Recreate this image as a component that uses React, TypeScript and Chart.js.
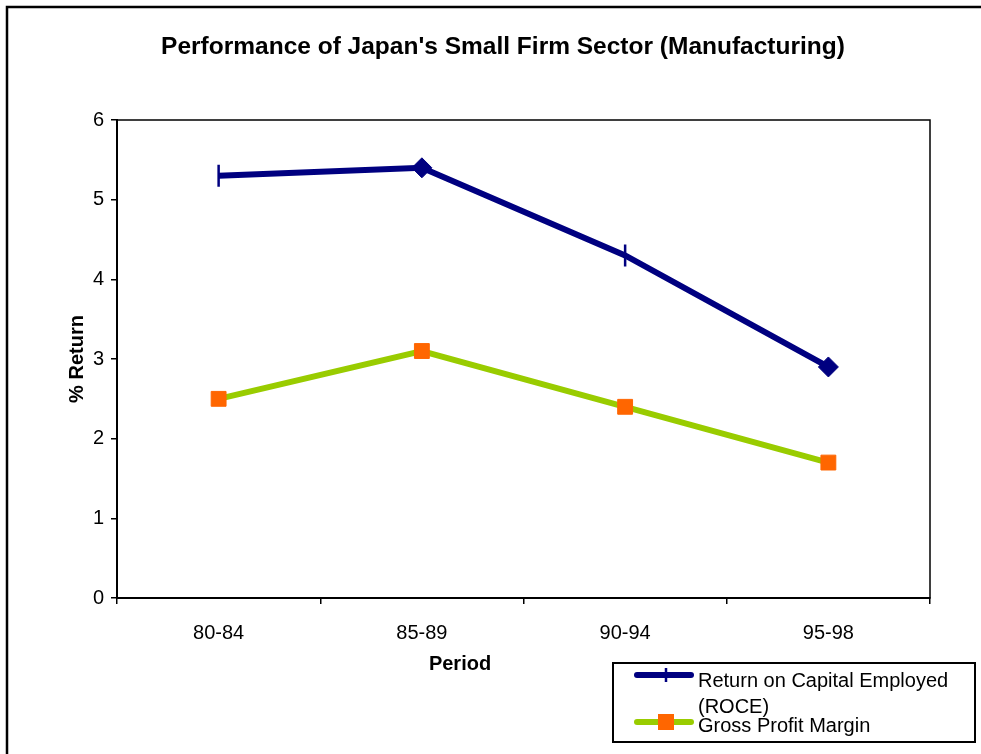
import React, { useEffect, useRef } from 'react';
import { Chart, registerables } from 'chart.js';

Chart.register(...registerables);

const TITLE = "Performance of Japan's Small Firm Sector (Manufacturing)";
const X_TITLE = 'Period';
const Y_TITLE = '% Return';
const periods = ['80-84', '85-89', '90-94', '95-98'];
const roce = [5.3, 5.4, 4.3, 2.9];
const grossProfitMargin = [2.5, 3.1, 2.4, 1.7];
const yTicks = [0, 1, 2, 3, 4, 5, 6];
const seriesLabels = ['Return on Capital Employed (ROCE)', 'Gross Profit Margin'];

const FONT = "'Liberation Sans', Arial, Helvetica, sans-serif";
const NAVY = '#000080';
const LIME = '#99cc00';
const ORANGE = '#ff6600';

const decorPlugin = {
  id: 'decor',
  beforeDatasetsDraw(chart: any) {
    const { ctx, chartArea } = chart;
    ctx.save();
    ctx.strokeStyle = '#000';
    ctx.lineWidth = 1.5;
    ctx.strokeRect(chartArea.left, chartArea.top, chartArea.right - chartArea.left, chartArea.bottom - chartArea.top);
    ctx.restore();
  },
  afterDraw(chart: any) {
    const { ctx } = chart;
    ctx.save();
    // outer frame
    ctx.strokeStyle = '#000';
    ctx.lineWidth = 2.5;
    ctx.beginPath();
    ctx.moveTo(7, 800);
    ctx.lineTo(7, 7);
    ctx.lineTo(1000, 7);
    ctx.stroke();

    // title
    ctx.fillStyle = '#000';
    ctx.textAlign = 'center';
    ctx.textBaseline = 'middle';
    ctx.font = `bold 24.5px ${FONT}`;
    ctx.fillText(TITLE, 503, 47);

    // x-axis title
    ctx.font = `bold 20px ${FONT}`;
    ctx.fillText(X_TITLE, 460, 664);

    // legend
    const bx = 613, by = 663, bw = 362, bh = 79;
    ctx.fillStyle = '#fff';
    ctx.fillRect(bx, by, bw, bh);
    ctx.strokeStyle = '#000';
    ctx.lineWidth = 2;
    ctx.strokeRect(bx, by, bw, bh);

    const sampleY = [675, 722];
    const textY = [681, 726];
    const lineGap = 26;
    ctx.font = `20px ${FONT}`;
    ctx.textAlign = 'left';
    ctx.textBaseline = 'middle';
    chart.data.datasets.forEach((ds: any, i: number) => {
      const y = sampleY[i];
      ctx.strokeStyle = ds.borderColor;
      ctx.lineWidth = 6;
      ctx.lineCap = 'round';
      ctx.beginPath();
      ctx.moveTo(637, y);
      ctx.lineTo(691, y);
      ctx.stroke();
      const style = Array.isArray(ds.pointStyle) ? ds.pointStyle[0] : ds.pointStyle;
      if (style === 'line') {
        ctx.lineWidth = 2.5;
        ctx.lineCap = 'butt';
        ctx.beginPath();
        ctx.moveTo(666, y - 7);
        ctx.lineTo(666, y + 7);
        ctx.stroke();
      } else {
        ctx.fillStyle = ds.pointBackgroundColor;
        ctx.fillRect(658, y - 8, 16, 16);
      }
      // wrap text
      const words = String(ds.label).split(' ');
      const lines: string[] = [];
      let cur = '';
      words.forEach((w) => {
        const test = cur ? cur + ' ' + w : w;
        if (ctx.measureText(test).width > 268 && cur) {
          lines.push(cur);
          cur = w;
        } else cur = test;
      });
      if (cur) lines.push(cur);
      ctx.fillStyle = '#000';
      lines.forEach((ln, k) => ctx.fillText(ln, 698, textY[i] + k * lineGap));
    });
    ctx.restore();
  },
};

export default function App() {
  const ref = useRef<HTMLCanvasElement>(null);
  useEffect(() => {
    if (!ref.current) return;
    const chart = new Chart(ref.current, {
      type: 'line',
      data: {
        labels: periods,
        datasets: [
          {
            label: seriesLabels[0],
            data: roce,
            borderColor: NAVY,
            backgroundColor: NAVY,
            borderWidth: 6,
            pointStyle: ['line', 'rectRot', 'line', 'rectRot'] as any,
            pointRotation: [90, 0, 90, 0] as any,
            pointRadius: [11, 10, 11, 10] as any,
            pointBorderWidth: [2.5, 1, 2.5, 1] as any,
            pointBorderColor: NAVY,
            pointBackgroundColor: NAVY,
            tension: 0,
          },
          {
            label: seriesLabels[1],
            data: grossProfitMargin,
            borderColor: LIME,
            backgroundColor: ORANGE,
            borderWidth: 6,
            pointStyle: 'rect',
            pointRadius: 10.5,
            pointBorderWidth: 1,
            pointBorderColor: ORANGE,
            pointBackgroundColor: ORANGE,
            tension: 0,
          },
        ],
      },
      options: {
        responsive: false,
        animation: false,
        devicePixelRatio: 1,
        layout: { padding: { left: 0, right: 51, top: 120, bottom: 0 } },
        plugins: {
          legend: { display: false },
          tooltip: { enabled: false },
          title: { display: false },
        },
        scales: {
          x: {
            type: 'category',
            offset: true,
            grid: {
              display: true,
              drawOnChartArea: false,
              drawTicks: true,
              tickLength: 6,
              color: '#000',
              lineWidth: 1.5,
              offset: true,
            },
            border: { display: true, color: '#000', width: 2 },
            ticks: { color: '#000', font: { family: FONT, size: 20 }, padding: 17 },
            afterFit: (s: any) => {
              s.height = 156;
            },
          },
          y: {
            min: 0,
            max: 6,
            afterBuildTicks: (s: any) => {
              s.ticks = yTicks.map((v) => ({ value: v }));
            },
            grid: {
              display: true,
              drawOnChartArea: false,
              drawTicks: true,
              tickLength: 6,
              color: '#000',
              lineWidth: 1.5,
            },
            border: { display: true, color: '#000', width: 2 },
            ticks: { color: '#000', font: { family: FONT, size: 20 }, padding: 7 },
            title: {
              display: true,
              text: Y_TITLE,
              color: '#000',
              font: { family: FONT, size: 20, weight: 'bold' },
              padding: { top: 65, bottom: 0 },
            },
            afterFit: (s: any) => {
              s.width = 117;
            },
          },
        },
      },
      plugins: [decorPlugin],
    });
    return () => chart.destroy();
  }, []);

  return (
    <div style={{ position: 'absolute', left: 0, top: 0, width: 981, height: 754, background: '#fff' }}>
      <canvas ref={ref} width={981} height={754} style={{ display: 'block', width: 981, height: 754 }} />
    </div>
  );
}
